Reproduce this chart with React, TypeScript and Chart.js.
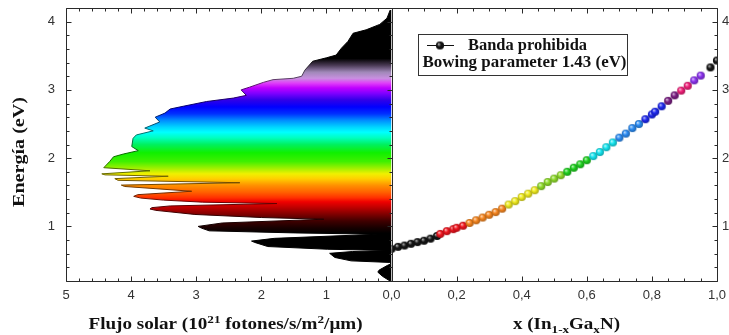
import React, { useEffect, useRef } from 'react';
import { Chart, registerables } from 'chart.js';

Chart.register(...registerables);

// ---------- Left panel: solar photon flux vs photon energy ----------
const spectrumFlux = [
  0.02, 0.07, 0.18, 0.39, 0.59, 0.67, 0.77, 0.85, 1.0, 1.21,
  1.33, 1.38, 1.51, 1.82, 1.97, 2.18, 2.31, 2.23, 2.43, 2.84,
  3.2, 3.4, 3.48, 3.63, 3.56, 3.79, 3.66, 3.92, 3.97, 3.99,
  3.89, 4.12, 4.27, 4.33, 4.42, 3.71, 4.45, 4.4, 3.43, 4.25,
  4.2, 2.33, 4.15, 4.1, 3.07, 3.9, 3.96, 3.85, 3.5, 2.9,
  1.76, 3.4, 3.68, 3.71, 3.62, 3.02, 2.0, 1.04, 2.6, 2.97,
  2.92, 2.8, 1.5, 0.21, 1.8, 2.15, 2.1, 1.9, 0.98, 0.03,
  0.6, 0.95, 0.87, 0.62, 0.03, 0.01, 0.06, 0.19, 0.21, 0.14,
  0.04, 0.0,
];
const spectrumEnergy = [
  4.17, 4.05, 3.96, 3.88, 3.83, 3.71, 3.61, 3.51, 3.47, 3.42,
  3.29, 3.2, 3.17, 3.15, 3.11, 3.04, 3.0, 2.92, 2.88, 2.83,
  2.76, 2.72, 2.66, 2.6, 2.53, 2.44, 2.4, 2.34, 2.29, 2.17,
  2.11, 2.06, 2.02, 1.95, 1.86, 1.815, 1.77, 1.755, 1.735, 1.7,
  1.675, 1.64, 1.605, 1.585, 1.515, 1.465, 1.44, 1.415, 1.385, 1.355,
  1.335, 1.3, 1.275, 1.255, 1.235, 1.175, 1.13, 1.105, 1.05, 1.0,
  0.975, 0.935, 0.905, 0.885, 0.825, 0.785, 0.765, 0.705, 0.665, 0.648,
  0.632, 0.605, 0.545, 0.495, 0.472, 0.45, 0.43, 0.36, 0.33, 0.27,
  0.21, 0.2,
];

// ---------- Right panel: band gap of In(1-x)Ga(x)N ----------
const compositionX = [
  0.0, 0.02, 0.04, 0.06, 0.08, 0.1, 0.12, 0.14,
  0.15, 0.17, 0.19, 0.2, 0.22,
  0.24, 0.26, 0.28, 0.3, 0.32, 0.34,
  0.36, 0.38, 0.4, 0.42, 0.44,
  0.46, 0.48, 0.5, 0.52,
  0.54, 0.56, 0.58, 0.6,
  0.62, 0.64, 0.66, 0.68,
  0.7, 0.72, 0.74, 0.76,
  0.78, 0.8, 0.81, 0.83,
  0.85, 0.87,
  0.89, 0.91,
  0.93, 0.95,
  0.98, 1.0,
];
const bandGapEV = [
  0.67, 0.7, 0.72, 0.745, 0.77, 0.79, 0.82, 0.86,
  0.89, 0.93, 0.96, 0.98, 1.01,
  1.05, 1.09, 1.13, 1.17, 1.21, 1.26,
  1.32, 1.37, 1.43, 1.48, 1.53,
  1.59, 1.65, 1.7, 1.75,
  1.8, 1.86, 1.91, 1.97,
  2.03, 2.09, 2.16, 2.23,
  2.3, 2.36, 2.44, 2.5,
  2.57, 2.64, 2.68, 2.76,
  2.84, 2.92,
  2.99, 3.06,
  3.14, 3.21,
  3.33, 3.43,
];
const pointColors = [
  '#151515', '#151515', '#151515', '#151515', '#151515', '#151515', '#151515', '#151515',
  '#f0141e', '#f0141e', '#f0141e', '#f0141e', '#f0141e',
  '#f7861e', '#f7861e', '#f7861e', '#f7861e', '#f7861e', '#f7861e',
  '#f0ec1e', '#f0ec1e', '#f0ec1e', '#f0ec1e', '#f0ec1e',
  '#8edc2a', '#8edc2a', '#8edc2a', '#8edc2a',
  '#1ed21e', '#1ed21e', '#1ed21e', '#1ed21e',
  '#14e6f0', '#14e6f0', '#14e6f0', '#14e6f0',
  '#2a8cf5', '#2a8cf5', '#2a8cf5', '#2a8cf5',
  '#1e28f0', '#1e28f0', '#1e28f0', '#1e28f0',
  '#7a1e82', '#7a1e82',
  '#f01e78', '#f01e78',
  '#8c32f0', '#8c32f0',
  '#151515', '#151515',
];

// ---------- Axis ticks / texts ----------
const energyTicks = [1, 2, 3, 4];
const fluxTicks = [5, 4, 3, 2, 1];
const compTicks = [0, 0.2, 0.4, 0.6, 0.8, 1.0];
const legendLine1 = 'Banda prohibida';
const legendLine2 = 'Bowing parameter 1.43 (eV)';
const yTitle = 'Energía (eV)';

// colour of the spectrum as a function of photon energy (eV)
const spectrumStops: [number, string][] = [
  [4.2, '#000000'], [3.46, '#000000'], [3.36, '#4a3a55'], [3.26, '#a088b8'],
  [3.17, '#c890e0'], [3.1, '#e040f8'], [3.03, '#c000ff'], [2.95, '#8000ff'],
  [2.85, '#3000e8'], [2.75, '#0000ff'], [2.65, '#0030ff'], [2.55, '#0090ff'],
  [2.45, '#00d8ff'], [2.38, '#00ffff'], [2.3, '#00ffc0'], [2.2, '#00f060'],
  [2.08, '#10f000'], [1.95, '#40f000'], [1.85, '#a0f000'], [1.77, '#f0f000'],
  [1.7, '#ffd000'], [1.6, '#ff9000'], [1.5, '#ff6000'], [1.42, '#ff3000'],
  [1.36, '#f00000'], [1.28, '#c00000'], [1.18, '#800000'], [1.08, '#400000'],
  [0.98, '#180000'], [0.9, '#000000'], [0.2, '#000000'],
];

const SERIF = '"Liberation Serif", "Times New Roman", serif';
const SANS = '"Liberation Sans", Arial, sans-serif';

function hexRgb(h: string) {
  const n = parseInt(h.slice(1), 16);
  return [(n >> 16) & 255, (n >> 8) & 255, n & 255];
}
function shade(h: string, k: number, mixWhite = 0) {
  const [r, g, b] = hexRgb(h);
  const f = (c: number) => Math.round(Math.min(255, c * k * (1 - mixWhite) + 255 * mixWhite));
  return `rgb(${f(r)},${f(g)},${f(b)})`;
}

function spectrumGradient(chart: any, k: number) {
  const { ctx, chartArea, scales } = chart;
  if (!chartArea || !scales.y) return '#000';
  const y = scales.y;
  const top = y.getPixelForValue(4.2);
  const bot = y.getPixelForValue(0.2);
  const g = ctx.createLinearGradient(0, top, 0, bot);
  for (const [e, col] of spectrumStops) {
    const p = Math.max(0, Math.min(1, (y.getPixelForValue(e) - top) / (bot - top)));
    g.addColorStop(p, shade(col, k));
  }
  return g;
}

function makeBall(color: string) {
  const r = 4.1;
  const size = 10;
  const c = document.createElement('canvas');
  c.width = size;
  c.height = size;
  const g = c.getContext('2d')!;
  const cx = size / 2, cy = size / 2;
  const isDark = color === '#151515';
  const grad = g.createRadialGradient(cx - 1.4, cy - 1.5, 0.3, cx, cy, r);
  grad.addColorStop(0, isDark ? '#b0b0b0' : shade(color, 1, 0.7));
  grad.addColorStop(0.45, color);
  grad.addColorStop(1, shade(color, 0.7));
  g.fillStyle = grad;
  g.beginPath();
  g.arc(cx, cy, r, 0, Math.PI * 2);
  g.fill();
  return c;
}

type Part = [string, number, number];
function drawRich(ctx: CanvasRenderingContext2D, parts: Part[], size: number, cx: number, base: number, target: number, rot = false) {
  ctx.save();
  const ws: number[] = [];
  let w = 0;
  for (const [t, s] of parts) {
    ctx.font = `bold ${Math.round(size * s)}px ${SERIF}`;
    const m = ctx.measureText(t).width;
    ws.push(m);
    w += m;
  }
  const sx = target ? target / w : 1;
  ctx.translate(cx, base);
  if (rot) ctx.rotate(-Math.PI / 2);
  ctx.scale(sx, 1);
  ctx.fillStyle = '#111';
  ctx.textAlign = 'left';
  ctx.textBaseline = 'alphabetic';
  let x = -w / 2;
  parts.forEach(([t, s, dy], i) => {
    ctx.font = `bold ${Math.round(size * s)}px ${SERIF}`;
    ctx.fillText(t, x, dy);
    x += ws[i];
  });
  ctx.restore();
  return sx;
}

const framePlugin = {
  id: 'frame',
  afterDatasetsDraw(chart: any) {
    const { ctx, chartArea: a, scales } = chart;
    const xf = scales.xf, xc = scales.xc, y = scales.y;
    const P = (v: number) => Math.round(v) + 0.5;
    const L = P(a.left), R = P(a.right), T = P(a.top), B = P(a.bottom);
    const M = P(xc.getPixelForValue(0));
    ctx.save();
    ctx.strokeStyle = '#2a2a2a';
    ctx.lineWidth = 1;
    ctx.beginPath();
    ctx.moveTo(L, T); ctx.lineTo(R, T); ctx.lineTo(R, B); ctx.lineTo(L, B); ctx.closePath();
    ctx.moveTo(M, T); ctx.lineTo(M, B);
    for (let i = 0; i <= 25; i++) {
      const px = P(xf.getPixelForValue(i * 0.2));
      const len = i % 5 === 0 ? 5 : 3;
      ctx.moveTo(px, B); ctx.lineTo(px, B - len);
      ctx.moveTo(px, T); ctx.lineTo(px, T + len);
    }
    for (let i = 0; i <= 20; i++) {
      const px = P(xc.getPixelForValue(i * 0.05));
      const len = i % 4 === 0 ? 5 : 3;
      ctx.moveTo(px, B); ctx.lineTo(px, B - len);
      ctx.moveTo(px, T); ctx.lineTo(px, T + len);
    }
    for (let i = 0; i <= 20; i++) {
      const v = 0.2 + i * 0.2;
      const py = P(y.getPixelForValue(v));
      const len = Math.abs(v - Math.round(v)) < 1e-6 ? 5 : 3;
      ctx.moveTo(L, py); ctx.lineTo(L + len, py);
      ctx.moveTo(R, py); ctx.lineTo(R - len, py);
      ctx.moveTo(M, py); ctx.lineTo(M - len, py);
    }
    ctx.stroke();
    ctx.restore();
  },
};

function makeTextPlugin(balls: HTMLCanvasElement[]) {
  return {
    id: 'texts',
    afterDraw(chart: any) {
      const ctx: CanvasRenderingContext2D = chart.ctx;
      // axis titles
      drawRich(ctx, [['Flujo solar (10', 1, 0], ['21', 0.68, -6], [' fotones/s/m', 1, 0], ['2', 0.68, -6], ['/\u03bcm)', 1, 0]], 16, 225.5, 329, 274);
      drawRich(ctx, [['x (In', 1, 0], ['1-x', 0.68, 4], ['Ga', 1, 0], ['x', 0.68, 4], ['N)', 1, 0]], 16, 566.5, 329, 107);
      drawRich(ctx, [[yTitle, 1, 0]], 16, 24, 152, 110, true);
      // legend
      ctx.save();
      ctx.strokeStyle = '#333';
      ctx.lineWidth = 1;
      ctx.strokeRect(418.5, 34.5, 209, 41);
      ctx.beginPath();
      ctx.strokeStyle = '#111';
      ctx.moveTo(427, 45.5); ctx.lineTo(454, 45.5);
      ctx.stroke();
      ctx.drawImage(balls[0], 440 - 5, 45.5 - 5);
      ctx.restore();
      drawRich(ctx, [[legendLine2, 1, 0]], 16, 524.5, 67, 204);
      drawRich(ctx, [[legendLine1, 1, 0]], 16, 527.5, 50, 119);
    },
  };
}

export default function App() {
  const ref = useRef<HTMLCanvasElement | null>(null);
  useEffect(() => {
    if (!ref.current) return;
    const balls = pointColors.map(makeBall);
    const tickFont = { family: SANS, size: 13 };
    const common = {
      type: 'linear' as const,
      grid: { display: false, drawTicks: false },
      border: { display: false },
    };
    const fitX = (s: any) => { s.height = 54; s.paddingLeft = 0; s.paddingRight = 0; s.paddingTop = 0; s.paddingBottom = 0; };
    const fitY = (w: number) => (s: any) => { s.width = w; s.paddingTop = 0; s.paddingBottom = 0; s.paddingLeft = 0; s.paddingRight = 0; };
    const chart = new Chart(ref.current, {
      type: 'scatter',
      data: {
        datasets: [
          {
            type: 'scatter',
            label: 'Banda prohibida',
            xAxisID: 'xc',
            yAxisID: 'y',
            data: compositionX.map((x, i) => ({ x, y: bandGapEV[i] })),
            pointRadius: 4,
            pointStyle: (c: any) => balls[c.dataIndex ?? 0] || balls[0],
            showLine: false,
          } as any,
          {
            type: 'line',
            label: 'Flujo solar',
            indexAxis: 'y',
            xAxisID: 'xf',
            yAxisID: 'y',
            data: spectrumFlux.map((f, i) => ({ x: f, y: spectrumEnergy[i] })),
            fill: 'origin',
            pointRadius: 0,
            borderWidth: 1,
            tension: 0,
            backgroundColor: (c: any) => spectrumGradient(c.chart, 1),
            borderColor: (c: any) => spectrumGradient(c.chart, 0.45),
          } as any,
        ],
      },
      options: {
        responsive: false,
        animation: false,
        devicePixelRatio: 1,
        events: [],
        layout: { padding: { top: 8, left: 0, right: 0, bottom: 0 } },
        plugins: { legend: { display: false }, tooltip: { enabled: false } },
        scales: {
          xf: {
            ...common,
            position: 'bottom',
            stack: 'bottom',
            stackWeight: 1,
            min: 0,
            max: 5,
            reverse: true,
            ticks: { font: tickFont, color: '#333', padding: 7, autoSkip: false, maxRotation: 0, callback: (v: any) => String(v) },
            afterBuildTicks: (s: any) => { s.ticks = fluxTicks.map((value) => ({ value })); },
            afterFit: fitX,
          },
          xc: {
            ...common,
            position: 'bottom',
            stack: 'bottom',
            stackWeight: 1,
            min: 0,
            max: 1,
            ticks: { font: tickFont, color: '#333', padding: 7, autoSkip: false, maxRotation: 0, callback: (v: any) => Number(v).toFixed(1).replace('.', ',') },
            afterBuildTicks: (s: any) => { s.ticks = compTicks.map((value) => ({ value })); },
            afterFit: fitX,
          },
          y: {
            ...common,
            position: 'left',
            min: 0.2,
            max: 4.2,
            ticks: { font: tickFont, color: '#333', padding: 11, callback: (v: any) => String(v) },
            afterBuildTicks: (s: any) => { s.ticks = energyTicks.map((value) => ({ value })); },
            afterFit: fitY(66),
          },
          y2: {
            ...common,
            position: 'right',
            min: 0.2,
            max: 4.2,
            ticks: { font: tickFont, color: '#333', padding: 5, callback: (v: any) => String(v) },
            afterBuildTicks: (s: any) => { s.ticks = energyTicks.map((value) => ({ value })); },
            afterFit: fitY(12),
          },
        },
      } as any,
      plugins: [framePlugin, makeTextPlugin(balls)],
    });
    return () => chart.destroy();
  }, []);
  return (
    <div style={{ position: 'fixed', left: 0, top: 0, width: 729, height: 335, background: '#fff' }}>
      <canvas ref={ref} width={729} height={335} style={{ display: 'block', width: 729, height: 335 }} />
    </div>
  );
}
